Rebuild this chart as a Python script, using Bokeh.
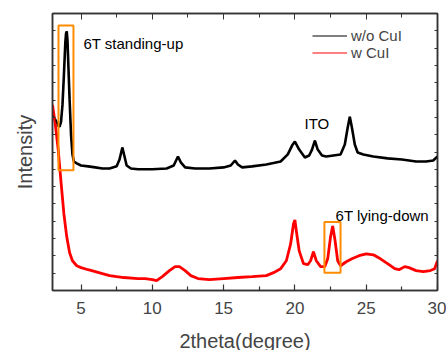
from bokeh.plotting import figure
from bokeh.models import (Range1d, LinearAxis, FixedTicker, Legend, LegendItem,
                          Label, CustomLabelingPolicy)
from bokeh.embed import file_html
from bokeh.resources import INLINE

# ---- data ----
theta_black = [3.0, 3.2, 3.4, 3.5, 3.6, 3.7, 3.8, 3.9, 3.95, 4.0, 4.05, 4.1, 4.2, 4.3, 4.4,
               4.5, 4.7, 5.0, 5.5, 6.0, 6.5, 7.0, 7.5, 7.7, 7.9, 8.05, 8.2, 8.5, 9.0, 10.0,
               11.0, 11.5, 11.8, 12.0, 12.3, 13.0, 14.0, 15.0, 15.5, 15.8, 16.0, 16.3, 17.0,
               18.0, 19.0, 19.5, 19.8, 20.0, 20.3, 20.7, 21.0, 21.2, 21.4, 21.6, 21.9, 22.2,
               22.7, 23.2, 23.5, 23.7, 23.85, 24.0, 24.2, 24.4, 24.8, 25.5, 26.5, 27.5, 28.5,
               29.2, 29.7, 30.0]
int_black = [10.15, 9.86, 9.52, 9.46, 9.75, 10.72, 12.44, 14.33, 14.85, 14.97, 14.45, 13.30,
             11.01, 9.0, 7.86, 7.45, 7.34, 7.22, 7.17, 7.11, 7.05, 7.05, 7.17, 7.57, 8.26, 7.74,
             7.22, 7.05, 7.0, 7.0, 7.05, 7.22, 7.74, 7.40, 7.11, 7.05, 7.05, 7.11, 7.22, 7.51,
             7.28, 7.11, 7.17, 7.28, 7.45, 7.86, 8.37, 8.60, 8.14, 7.68, 7.80, 8.14, 8.66, 8.14,
             7.80, 7.74, 7.80, 7.86, 8.43, 9.40, 10.03, 9.40, 8.43, 7.97, 7.86, 7.74, 7.63, 7.57,
             7.45, 7.45, 7.51, 7.74]

theta_red = [3.0, 3.2, 3.4, 3.6, 3.8, 4.0, 4.2, 4.4, 4.7, 5.0, 5.5, 6.0, 6.5, 7.0, 7.5, 8.0,
             9.0, 9.5, 10.0, 10.3, 10.7, 11.2, 11.6, 11.9, 12.3, 12.7, 13.2, 14.0, 15.0, 16.0,
             17.0, 18.0, 18.5, 19.0, 19.4, 19.7, 19.9, 20.0, 20.1, 20.3, 20.6, 20.9, 21.1, 21.3,
             21.5, 21.8, 22.1, 22.3, 22.5, 22.65, 22.8, 23.0, 23.2, 23.6, 24.0, 24.5, 25.0,
             25.5, 26.0, 26.5, 27.0, 27.3, 27.7, 28.0, 28.5, 29.0, 29.5, 29.8, 30.0]
int_red = [10.72, 9.58, 8.14, 6.25, 4.42, 3.10, 2.18, 1.72, 1.43, 1.32, 1.20, 1.09, 0.97, 0.86,
           0.80, 0.75, 0.69, 0.69, 0.63, 0.57, 0.80, 1.15, 1.38, 1.38, 1.15, 0.86, 0.69, 0.63,
           0.69, 0.75, 0.80, 0.86, 1.03, 1.26, 1.72, 2.69, 3.84, 4.07, 3.44, 2.29, 1.55, 1.49,
           1.72, 2.24, 1.72, 1.38, 1.38, 1.83, 3.10, 3.73, 2.98, 1.72, 1.43, 1.66, 1.83, 2.01,
           2.12, 2.06, 1.83, 1.55, 1.26, 1.20, 1.38, 1.32, 1.15, 1.09, 1.15, 1.26, 1.72]

# highlight boxes: (left, right, bottom, top)
box_left = [3.42, 22.07]
box_right = [4.47, 23.20]
box_bottom = [6.94, 1.03]
box_top = [15.31, 3.96]

x_major = [5, 10, 15, 20, 25, 30]
x_minor = [7.5, 12.5, 17.5, 22.5, 27.5]
y_ticks = list(range(0, 17))

series_names = ["w/o CuI", "w CuI"]
annotations = [("6T standing-up", 5.17, 14.28), ("ITO", 20.67, 9.63), ("6T lying-down", 22.85, 4.36)]

FONT = "Liberation Sans"
ORANGE = "#ff8c00"
AXC = "#333333"

p = figure(width=446, height=354, output_backend="svg", toolbar_location=None,
           x_range=Range1d(3, 30), y_range=Range1d(0, 16),
           min_border_left=52, min_border_right=9, min_border_top=13, min_border_bottom=62,
           background_fill_color="white", border_fill_color="white")
p.grid.visible = False
p.outline_line_color = AXC
p.outline_line_width = 1.5

p.line(theta_black, int_black, line_color="black", line_width=2.6)
p.line(theta_red, int_red, line_color="red", line_width=2.8)
# thin copies drawn inside the thick curves, used as legend samples
lb = p.line(theta_black, int_black, line_color="black", line_width=1)
lr = p.line(theta_red, int_red, line_color="red", line_width=1)

p.quad(left=box_left, right=box_right, bottom=box_bottom, top=box_top,
       fill_color=None, line_color=ORANGE, line_width=2)

for txt, xx, yy in annotations:
    p.add_layout(Label(x=xx, y=yy, text=txt, text_font=FONT, text_font_size="15px",
                       text_color="black", text_baseline="middle", text_align="left"))

no_labels = CustomLabelingPolicy(code="""
try {
  const out = indices.clone();
  for (let i = 0; i < out.size; i++) out.unset(i);
  return out;
} catch (e) { return indices; }
""")

xt = FixedTicker(ticks=x_major, minor_ticks=x_minor)
yt = FixedTicker(ticks=y_ticks, minor_ticks=[])

ax = p.xaxis[0]
ax.ticker = xt
ay = p.yaxis[0]
ay.ticker = yt

for a in (ax, ay):
    a.axis_line_color = AXC
    a.axis_line_width = 1.5
    a.major_tick_in = 6
    a.major_tick_out = 0
    a.minor_tick_in = 4
    a.minor_tick_out = 0
    a.major_tick_line_color = AXC
    a.minor_tick_line_color = AXC
    a.major_tick_line_width = 1.2
    a.minor_tick_line_width = 1.2
    a.axis_label_text_font = FONT
    a.axis_label_text_font_style = "normal"
    a.axis_label_text_font_size = "20px"
    a.major_label_text_font = FONT
    a.major_label_text_font_size = "17px"

ax.axis_label = "2theta(degree)"
ax.major_label_standoff = 11
ax.axis_label_standoff = 13
ay.axis_label = "Intensity"
ay.major_tick_in = 3
ay.major_label_policy = no_labels
ay.major_label_text_font_size = "0px"
ay.major_label_standoff = 0
ay.axis_label_standoff = 17

top_ax = LinearAxis(ticker=xt, major_label_policy=no_labels, major_label_standoff=0,
                    major_label_text_font_size="0px",
                    major_tick_in=6, major_tick_out=0, minor_tick_in=4, minor_tick_out=0,
                    axis_line_color=AXC, axis_line_width=1.5,
                    major_tick_line_color=AXC, minor_tick_line_color=AXC)
right_ax = LinearAxis(ticker=yt, major_label_policy=no_labels, major_label_standoff=0,
                      major_label_text_font_size="0px",
                      major_tick_in=3, major_tick_out=0, minor_tick_in=0, minor_tick_out=0,
                      axis_line_color=AXC, axis_line_width=1.5,
                      major_tick_line_color=AXC)
p.add_layout(top_ax, "above")
p.add_layout(right_ax, "right")

legend = Legend(items=[LegendItem(label=series_names[0], renderers=[lb]),
                       LegendItem(label=series_names[1], renderers=[lr])],
                location=(260, 229), glyph_width=35, glyph_height=17, spacing=0,
                padding=0, margin=0, label_standoff=4, label_height=17,
                label_text_font=FONT, label_text_font_size="15px",
                border_line_color=None, background_fill_alpha=0)
p.add_layout(legend, "center")

open("out.html", "w").write(file_html(p, INLINE))
